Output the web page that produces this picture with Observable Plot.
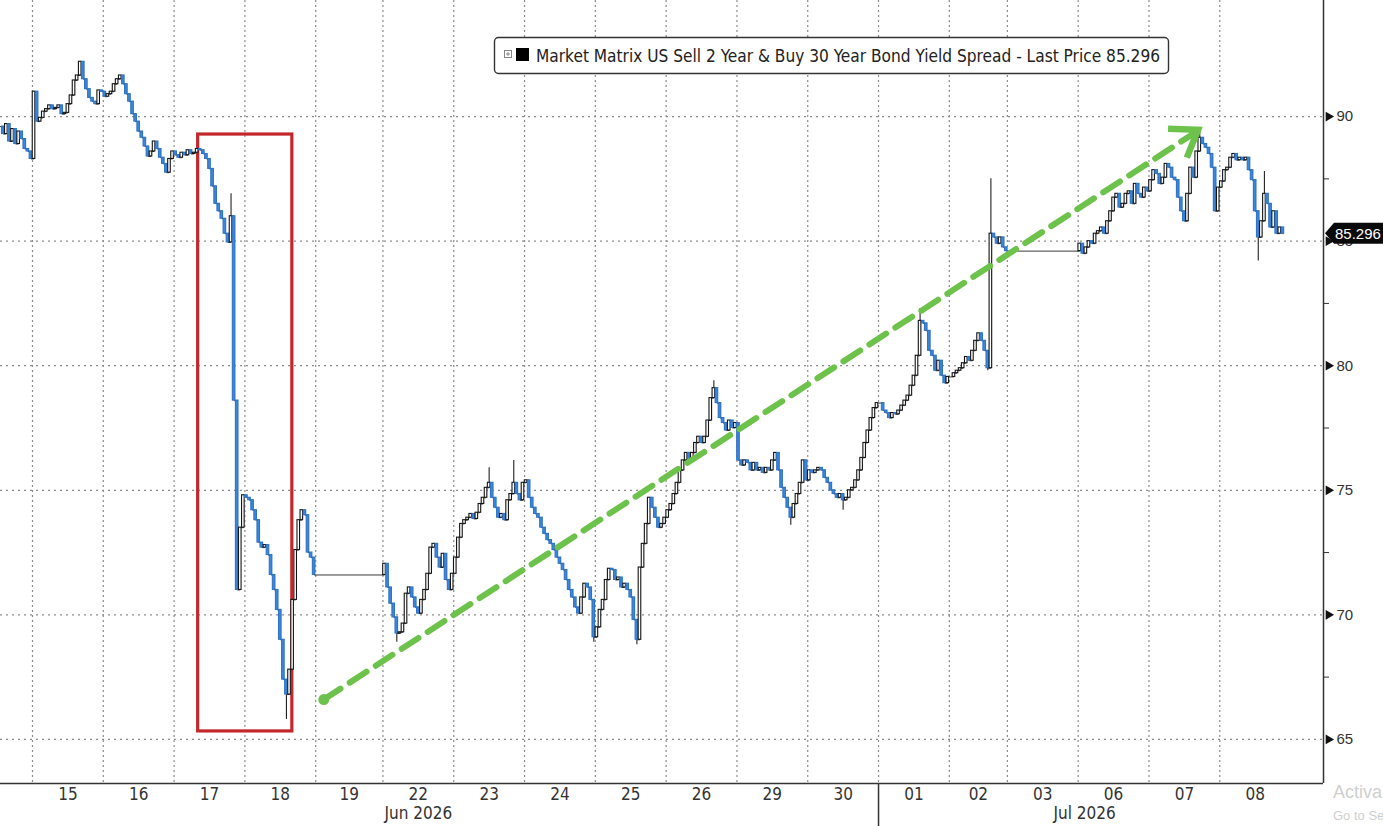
<!DOCTYPE html>
<html><head><meta charset="utf-8">
<script src="https://cdn.jsdelivr.net/npm/d3@7"></script>
<script src="https://cdn.jsdelivr.net/npm/@observablehq/plot@0.6"></script>
<style>
html,body{margin:0;padding:0;background:#fff;overflow:hidden;}
#chart{width:1383px;height:826px;}
</style></head>
<body><div id="chart"></div>
<script>
// ---- sessions (trading days) ----
const sessionLabels = ["12","15","16","17","18","19","22","23","24","25","26","29","30","01","02","03","06","07","08"];
const sessionLength = [1,1,1,1,1,0.95,1,1,1,1,1,1,1,1,0.82,1,1,1,1];
const barsPerSession = 23;
const jun12FirstVisibleBar = 12;

// ---- closing values per bar ----
const jun12Tail = [89.6,89.3,89.7,89.0,89.5,88.9,89.4,89.1,88.7,88.6,88.3];
const jun15 = [91.0,89.8,89.95,90.2,90.3,90.45,90.3,90.35,90.45,90.1,90.15,90.5,90.85,91.45,91.65,92.2,91.5,91.1,90.75,90.6,90.5,91.05,91.0];
const jun16 = [90.8,90.9,91.0,91.3,91.5,91.65,91.3,90.9,90.6,90.1,89.8,89.4,89.15,88.8,88.4,88.6,89.0,88.7,88.35,88.1,87.75,88.3,88.6];
const jun17 = [88.45,88.35,88.55,88.45,88.65,88.5,88.55,88.7,88.65,88.5,88.3,87.9,87.2,86.5,86.2,85.9,85.3,84.95,86.0,78.6,71.0,73.5,74.8];
const jun18 = [74.7,74.6,74.2,73.8,72.9,72.7,72.8,72.4,71.6,71.0,70.2,69.0,67.4,66.8,67.8,70.6,72.6,73.8,74.2,74.0,72.5,72.3,71.6];
const jun19 = [];
const jun22 = [72.05,71.1,70.45,69.9,69.25,69.3,69.65,70.85,71.1,70.7,70.3,70.05,70.6,71.0,71.65,72.7,72.85,72.3,71.9,72.45,71.4,71.0,71.65];
const jun23 = [72.3,73.1,73.65,73.8,73.9,74.05,73.85,74.1,74.45,74.7,75.1,75.3,74.7,74.3,73.9,74.05,73.8,74.6,74.85,75.3,74.85,74.6,75.3];
const jun24 = [75.4,74.7,74.3,74.05,73.9,73.5,73.25,73.0,72.85,72.6,72.3,72.05,71.8,71.4,71.0,70.7,70.3,70.05,70.7,71.25,71.1,70.6,69.1];
const jun25 = [69.5,70.2,70.6,71.4,71.85,71.8,71.4,71.5,71.1,71.25,71.0,70.7,69.8,69.0,71.9,72.85,73.65,74.7,74.3,73.9,73.5,73.65,73.9];
const jun26 = [74.2,74.45,74.85,75.3,75.8,76.2,76.5,76.2,76.5,76.9,77.15,76.9,77.15,77.8,78.7,79.1,78.5,77.9,77.7,77.4,77.8,77.5,77.7];
const jun29 = [76.2,76.0,76.2,76.1,75.8,76.1,75.8,75.9,75.7,75.9,75.8,76.2,76.5,75.8,75.1,74.7,74.3,73.9,74.45,74.85,75.3,76.2,75.4];
const jun30 = [75.8,75.7,75.8,75.9,75.8,75.5,75.3,75.0,74.85,74.7,74.85,74.6,74.7,75.0,75.1,75.4,75.8,76.3,76.9,77.4,77.9,78.3,78.5];
const jul01 = [78.5,78.2,78.1,77.9,78.1,78.05,78.2,78.4,78.6,78.8,79.2,79.6,80.4,81.8,81.7,81.4,80.6,80.4,79.8,80.2,79.6,79.3,79.55];
const jul02 = [79.55,79.7,79.8,79.9,80.1,80.35,80.2,80.6,81.0,81.3,81.0,80.6,79.9,85.3,85.15,84.9,85.15,84.75,84.6];
const jul03 = [];
const jul06 = [84.9,84.5,84.75,85.0,84.9,85.3,85.4,85.55,85.3,85.8,86.2,86.75,86.9,86.35,86.5,86.9,87.0,86.5,87.3,86.9,86.75,87.15,87.0];
const jul07 = [87.45,87.85,87.7,87.3,87.55,88.1,87.95,87.55,87.45,86.75,86.2,85.8,86.9,87.95,87.55,88.6,89.15,88.9,88.75,88.5,87.95,86.2,87.15];
const jul08 = [87.4,87.85,87.95,88.35,88.5,88.25,88.35,88.25,88.35,87.85,87.45,86.2,85.15,85.8,86.9,86.5,85.55,86.2,85.3,85.55,85.296];

// notable wicks: [session, bar, low, high]
const wickSession = ["17","18","22","23","23","24","25","26","29","30","01","02","02","07","08","08"];
const wickBar     = [18,   13,  4,   11,  19,  22,  13,  15,  17,  11,  13,  13,  12,  16,  12,  14];
const wickLow     = [null,65.8,68.9,null,null,68.9,68.8,null,73.6,74.2,null,null,79.8,null,84.2,null];
const wickHigh    = [86.9,null,null,75.9,76.2,null,null,79.4,null,null,82.3,87.5,null,89.5,null,87.8];

const yTicks = [65,70,75,80,85,90];
const yMinorTicks = [67.5,72.5,77.5,82.5,87.5];
const monthLabels = ["Jun 2026","Jul 2026"];
const legendText = "Market Matrix US Sell 2 Year & Buy 30 Year Bond Yield Spread - Last Price 85.296";
const lastPrice = 85.296;

// annotations: [session, fraction of session, value]
const highlightFrom = ["17", 0.34, 89.28];
const highlightTo   = ["18", 0.67, 65.32];
const trendFrom = ["19", 0.12, 66.6];
const trendTo   = ["07", 0.70, 89.45];

const xDomain = [-0.452, 18.235];
const yDomain = [63.23, 94.66];

// ---- build tables ----
const sessionCloses = [jun12Tail,jun15,jun16,jun17,jun18,jun19,jun22,jun23,jun24,jun25,jun26,jun29,jun30,jul01,jul02,jul03,jul06,jul07,jul08];
let acc = -1;
const sessions = sessionLabels.map((label,k) => {
  const s = {label, start: acc, len: sessionLength[k], closes: sessionCloses[k], first: k === 0 ? jun12FirstVisibleBar : 0};
  acc += sessionLength[k];
  return s;
});
const byLabel = new Map(sessions.map(s => [s.label, s]));
const pos = (label, frac) => byLabel.get(label).start + frac * byLabel.get(label).len;

const bars = [];
let prev = null;
for (const s of sessions) {
  s.closes.forEach((c, i) => {
    const x = s.start + (s.first + i + 0.5) / barsPerSession;
    const open = prev ?? c;
    bars.push({label: s.label, bar: i, x, open, close: c, up: c >= open});
    prev = c;
  });
}
const half = 0.42 / barsPerSession;
const wicks = wickSession.map((lab, k) => {
  const b = bars.find(d => d.label === lab && d.bar === wickBar[k]);
  return {x: b.x, y1: wickLow[k] ?? Math.min(b.open, b.close), y2: wickHigh[k] ?? Math.max(b.open, b.close)};
});
const dayRows = sessions.slice(1).map(s => ({label: s.label, start: s.start, mid: s.start + s.len / 2}));
const gridX = dayRows.map(d => d.start);
const julStart = byLabel.get("01").start;
const julEnd = byLabel.get("08").start + byLabel.get("08").len;
const monthRows = [
  {text: monthLabels[0], x: pos("22", 0.5)},
  {text: monthLabels[1], x: (julStart + julEnd) / 2}
];
const box = {x1: pos(highlightFrom[0], highlightFrom[1]), x2: pos(highlightTo[0], highlightTo[1]), y1: highlightTo[2], y2: highlightFrom[2]};
const trend = [
  {x: pos(trendFrom[0], trendFrom[1]), y: trendFrom[2]},
  {x: pos(trendTo[0], trendTo[1]), y: trendTo[2]}
];

const narrow = "'Liberation Sans Narrow','DejaVu Sans Condensed','Arial Narrow',sans-serif";
const sans = "'Liberation Sans',Arial,'DejaVu Sans',sans-serif";
const green = "#6cc24a";
const xMax = xDomain[1];

const plot = Plot.plot({
  width: 1383, height: 826,
  marginTop: 0, marginRight: 60, marginBottom: 43, marginLeft: 0,
  x: {domain: xDomain, axis: null},
  y: {domain: yDomain, axis: null},
  style: {background: "white", color: "#333", overflow: "visible"},
  marks: [
    Plot.ruleY(yTicks, {stroke: "#8c8c8c", strokeDasharray: "2,4", strokeWidth: 1.2}),
    Plot.ruleX(gridX, {stroke: "#8c8c8c", strokeDasharray: "2,3", strokeWidth: 1.2}),
    Plot.rect([box], {x1: "x1", x2: "x2", y1: "y1", y2: "y2", fill: "none", stroke: "#c3262b", strokeWidth: 3.2}),
    Plot.line(bars, {x: "x", y: "close", curve: "step-after", stroke: "#222", strokeWidth: 0.9}),
    Plot.ruleX(wicks, {x: "x", y1: "y1", y2: "y2", stroke: "#222", strokeWidth: 1.1}),
    Plot.rect(bars, {
      x1: d => d.x - half, x2: d => d.x + half, y1: "open", y2: "close",
      fill: d => d.up ? "#ffffff" : "#3d86d9",
      stroke: d => d.up ? "#151515" : "#2f74c6", strokeWidth: 1.1
    }),
    Plot.line(trend, {x: "x", y: "y", stroke: green, strokeWidth: 6, strokeDasharray: "20,11"}),
    Plot.dot(trend.slice(0, 1), {x: "x", y: "y", r: 5.5, fill: green}),
    Plot.ruleY([yDomain[0]], {stroke: "#333", strokeWidth: 1.5}),
    Plot.ruleX([xMax], {stroke: "#333", strokeWidth: 1.5}),
    Plot.ruleX([julStart], {stroke: "#333", strokeWidth: 1.5, insetTop: 783, insetBottom: -43}),
    Plot.axisY(yMinorTicks, {anchor: "right", tickSize: 5, tickFormat: () => "", stroke: "#333"}),
    Plot.dot(yTicks, {x: () => xMax, y: d => d, symbol: "triangle", rotate: 90, r: 3.6, fill: "#111", dx: 5}),
    Plot.text(yTicks, {x: () => xMax, y: d => d, text: d => String(d), textAnchor: "start", dx: 13, fontSize: 15, fontFamily: sans, fill: "#333"}),
    Plot.text(dayRows, {x: "mid", text: "label", frameAnchor: "bottom", dy: 16, fontSize: 17, fontFamily: narrow, fill: "#333"}),
    Plot.text(monthRows, {x: "x", text: "text", frameAnchor: "bottom", dy: 35, fontSize: 17, fontFamily: narrow, fill: "#333"})
  ]
});
document.getElementById("chart").appendChild(plot);

// ---- overlays positioned through Plot's scales ----
const sx = plot.scale("x"), sy = plot.scale("y");
const svg = d3.select(plot);

// arrowhead of the trend line
{
  const S = [sx.apply(trend[0].x), sy.apply(trend[0].y)];
  const T = [sx.apply(trend[1].x), sy.apply(trend[1].y)];
  const L = Math.hypot(T[0] - S[0], T[1] - S[1]);
  const u = [(T[0] - S[0]) / L, (T[1] - S[1]) / L];
  const wing = (ang) => {
    const a = ang * Math.PI / 180, c = Math.cos(a), s = Math.sin(a);
    const v = [-u[0] * c + u[1] * s, -u[0] * s - u[1] * c];
    return [T[0] + 30 * v[0], T[1] + 30 * v[1]];
  };
  const w1 = wing(35), w2 = wing(-35);
  svg.append("path")
    .attr("d", `M${w1[0]},${w1[1]}L${T[0]},${T[1]}L${w2[0]},${w2[1]}`)
    .attr("fill", "none").attr("stroke", green).attr("stroke-width", 6.5)
    .attr("stroke-linejoin", "miter");
}

// last price tag
{
  const y = sy.apply(lastPrice);
  const x0 = sx.apply(xMax) + 2;
  svg.append("path")
    .attr("d", `M${x0},${y}L${x0 + 9},${y - 10.5}L1383,${y - 10.5}L1383,${y + 10.5}L${x0 + 9},${y + 10.5}Z`)
    .attr("fill", "#0a0a0a");
  svg.append("text").attr("x", x0 + 10).attr("y", y + 5.5).attr("text-anchor", "start")
    .attr("fill", "#fff").attr("font-size", 15).attr("font-family", sans)
    .text(lastPrice.toFixed(3));
}

// legend box
{
  const g = svg.append("g");
  g.append("rect").attr("x", 494.5).attr("y", 37.5).attr("width", 674).attr("height", 36)
    .attr("rx", 4).attr("fill", "#fff").attr("stroke", "#333").attr("stroke-width", 1.4);
  g.append("rect").attr("x", 504.5).attr("y", 50.5).attr("width", 7).attr("height", 7)
    .attr("fill", "none").attr("stroke", "#888").attr("stroke-width", 1);
  g.append("path").attr("d", "M506,54H510M508,52V56").attr("stroke", "#888").attr("stroke-width", 1);
  g.append("rect").attr("x", 516).attr("y", 48).attr("width", 13).attr("height", 13).attr("fill", "#000");
  g.append("text").attr("x", 536).attr("y", 61.5).attr("text-anchor", "start")
    .attr("font-size", 18).attr("font-family", narrow).attr("fill", "#222")
    .attr("textLength", 624).attr("lengthAdjust", "spacingAndGlyphs")
    .text(legendText);
}

// screen watermark seen in the picture
svg.append("text").attr("x", 1333).attr("y", 798).attr("text-anchor", "start").attr("font-size", 18).attr("font-family", sans)
  .attr("fill", "#cfcfcf").text("Activa");
svg.append("text").attr("x", 1333).attr("y", 820).attr("text-anchor", "start").attr("font-size", 13).attr("font-family", sans)
  .attr("fill", "#cfcfcf").text("Go to Se");
</script>
</body></html>
